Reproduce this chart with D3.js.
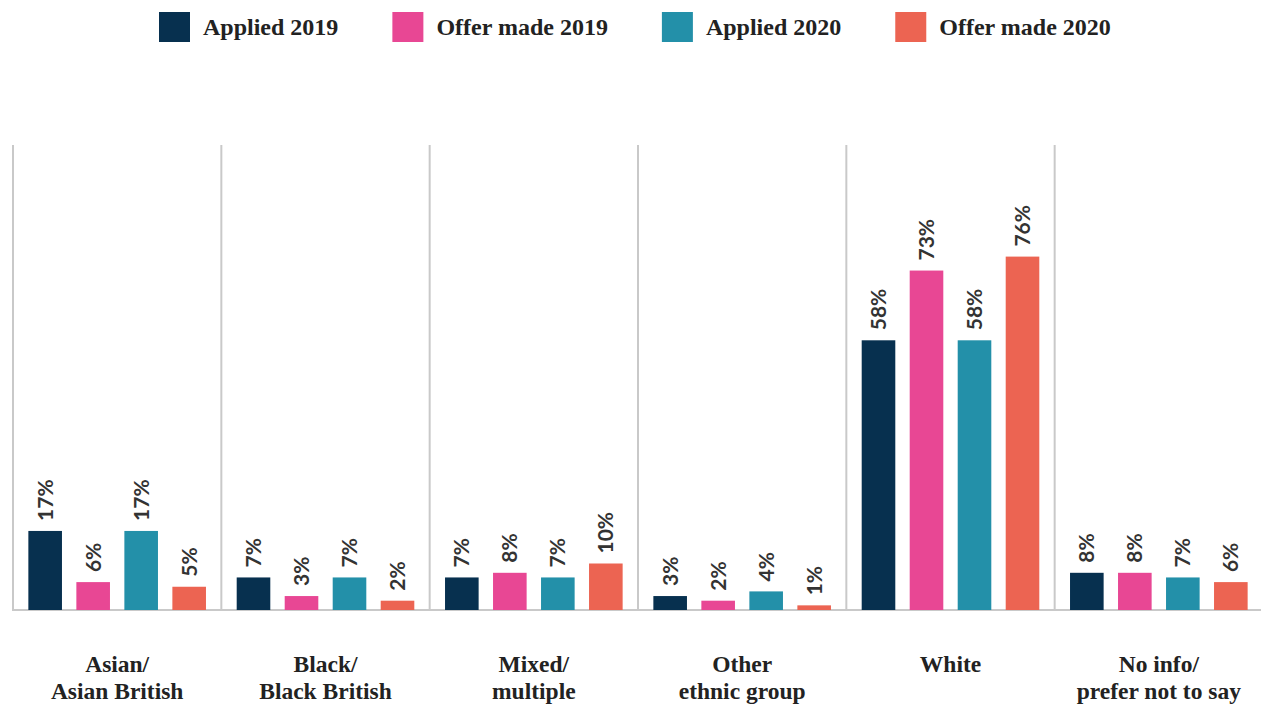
<!DOCTYPE html>
<html><head><meta charset="utf-8">
<script src="https://cdn.jsdelivr.net/npm/d3@7"></script>
<style>body{margin:0;background:#fff;} svg{display:block;}</style>
</head><body>
<svg id="chart" width="1261" height="704"></svg>
<script>
const categories = [["Asian/","Asian British"],["Black/","Black British"],["Mixed/","multiple"],["Other","ethnic group"],["White"],["No info/","prefer not to say"]];
const seriesNames = ["Applied 2019","Offer made 2019","Applied 2020","Offer made 2020"];
const applied2019 = [17, 7, 7, 3, 58, 8];
const offer2019   = [6, 3, 8, 2, 73, 8];
const applied2020 = [17, 7, 7, 4, 58, 7];
const offer2020   = [5, 2, 10, 1, 76, 6];
const colors = ["#07304f","#e84794","#2390a9","#ec6452"];

const series = [applied2019, offer2019, applied2020, offer2020];
const svg = d3.select("#chart");
const serif = "'Liberation Serif', serif";
const sans = "Lato, sans-serif";

const x0 = d3.scaleBand().domain(d3.range(categories.length)).range([13, 1263]).paddingInner(0).paddingOuter(0);
const x1 = d3.scaleBand().domain(d3.range(seriesNames.length)).range([0, x0.bandwidth()]).paddingInner(0.3).paddingOuter(0.32);
const y = d3.scaleLinear().domain([0, 100]).range([610, 145]);

const grid = "#c9c9c9";
svg.append("g").selectAll("line").data(d3.range(categories.length)).join("line")
  .attr("x1", d => x0(d)).attr("x2", d => x0(d))
  .attr("y1", y(100)).attr("y2", y(0))
  .attr("stroke", grid).attr("stroke-width", 2);
svg.append("line").attr("x1", 12).attr("x2", 1261).attr("y1", y(0)).attr("y2", y(0))
  .attr("stroke", grid).attr("stroke-width", 2);

const groups = svg.append("g").selectAll("g").data(categories).join("g")
  .attr("transform", (d, i) => `translate(${x0(i)},0)`);

groups.each(function(cat, ci) {
  const g = d3.select(this);
  series.forEach((s, si) => {
    const v = s[ci];
    g.append("rect").attr("x", x1(si)).attr("width", x1.bandwidth())
      .attr("y", y(v)).attr("height", y(0) - y(v)).attr("fill", colors[si]);
    const cx = x1(si) + x1.bandwidth() / 2;
    g.append("text").attr("transform", `translate(${cx + 7.5},${y(v) - 10}) rotate(-90)`)
      .attr("font-family", sans).attr("font-size", 21).attr("font-weight", 700)
      .attr("fill", "#333").text(v + "%");
  });
  const cx = x0.bandwidth() / 2;
  cat.forEach((line, li) => {
    g.append("text").attr("x", cx).attr("y", 672 + li * 27).attr("text-anchor", "middle")
      .attr("font-family", serif).attr("font-size", 23.5).attr("font-weight", 700)
      .attr("fill", "#222").text(line);
  });
});

const legend = svg.append("g");
let lx = 159;
seriesNames.forEach((name, i) => {
  legend.append("rect").attr("x", lx).attr("y", 12).attr("width", 31).attr("height", 30).attr("fill", colors[i]);
  const t = legend.append("text").attr("x", lx + 44).attr("y", 35)
    .attr("font-family", serif).attr("font-size", 24).attr("font-weight", 700)
    .attr("fill", "#222").text(name);
  lx = lx + 44 + t.node().getComputedTextLength() + 54;
});
</script>
</body></html>
